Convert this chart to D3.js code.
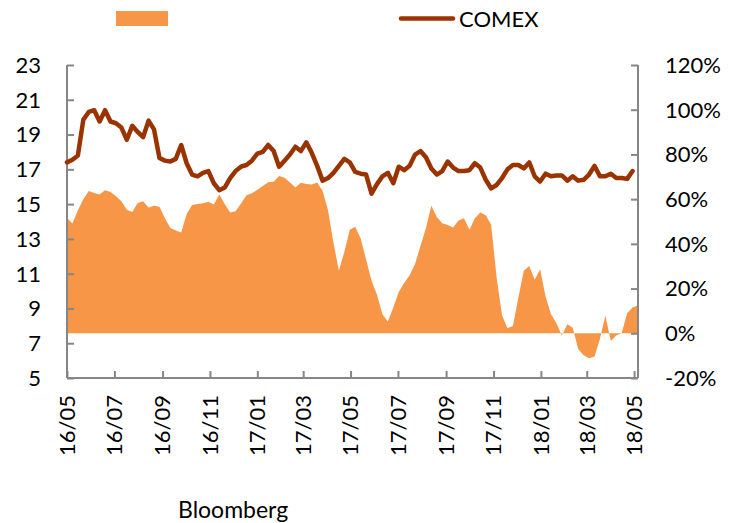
<!DOCTYPE html>
<html>
<head>
<meta charset="utf-8">
<script src="https://cdn.jsdelivr.net/npm/d3@7"></script>
<style>
html,body{margin:0;padding:0;background:#fff;}
svg text{font-family:Lato,"Open Sans",sans-serif;fill:#000;}
</style>
</head>
<body>
<svg id="chart" width="740" height="523"></svg>
<script>
// ---- data ----
const firstWeek = "2016-05-06";
const lastDate = "2018-05-11";
const tickLabels = ["16/05","16/07","16/09","16/11","17/01","17/03","17/05","17/07","17/09","17/11","18/01","18/03","18/05"];
const leftTicks = [5,7,9,11,13,15,17,19,21,23];
const rightTicks = [-20,0,20,40,60,80,100,120];
const seriesNames = ["", "COMEX"];
// COMEX price (left axis), weekly
const comex = [
17.4,17.55,17.8,19.85,20.3,20.4,19.75,20.4,19.75,19.65,
19.4,18.7,19.5,19.15,18.85,19.8,19.3,17.65,17.5,17.45,
17.6,18.4,17.35,16.7,16.6,16.8,16.9,16.2,15.8,15.95,
16.5,16.9,17.15,17.25,17.5,17.9,18.0,18.4,18.05,17.15,
17.5,17.85,18.3,18.05,18.55,17.95,17.2,16.35,16.5,16.8,
17.2,17.6,17.4,16.85,16.75,16.7,15.6,16.15,16.6,16.8,
16.2,17.15,16.95,17.2,17.85,18.05,17.7,17.05,16.7,16.9,
17.45,17.1,16.9,16.9,16.95,17.35,17.1,16.4,15.9,16.1,
16.5,17.0,17.25,17.25,17.05,17.4,16.6,16.3,16.75,16.6,
16.65,16.65,16.35,16.6,16.35,16.4,16.7,17.2,16.6,16.6,
16.75,16.5,16.5,16.45,16.9
];
// unnamed series (right axis, %), weekly
const pct = [
51.6,49.1,55.0,60.0,63.6,62.8,62.1,64.0,63.2,61.3,
59.1,55.2,54.3,58.3,59.1,56.3,57.0,56.6,51.5,47.1,
46.0,45.1,53.3,57.4,57.8,58.2,58.8,57.6,62.1,57.8,
54.0,54.6,58.1,61.7,62.6,64.2,65.9,67.6,67.8,70.3,
69.6,67.5,65.2,67.3,66.8,66.6,67.4,63.8,55.0,40.5,
28.0,36.4,46.3,47.6,42.4,33.0,23.5,17.2,8.5,5.3,
11.5,18.5,22.5,26.0,31.0,39.0,47.0,57.0,52.0,49.2,
48.4,47.3,50.5,51.5,46.3,51.5,54.0,52.8,48.5,25.0,
8.0,2.3,3.3,16.0,28.0,30.1,24.0,28.6,16.5,8.5,
4.5,-1.0,4.0,2.5,-7.0,-9.8,-11.2,-10.4,-2.5,8.0,
-3.5,-1.0,0.1,9.0,11.5,12.4
];

// ---- layout ----
const svg = d3.select("#chart");
const X0 = 67, X1 = 638, YT = 65, YB = 378;
const axisColor = "#868686";
const areaColor = "#F79646";
const lineColor = "#993300";
const fs = 22;

const parseDay = d3.timeParse("%Y-%m-%d");
const start = parseDay(firstWeek);
const weekDate = i => d3.timeDay.offset(start, 7 * i);

const x = d3.scaleTime().domain([start, parseDay(lastDate)]).range([X0, X1]);
const yL = d3.scaleLinear().domain([5, 23]).range([YB, YT]);
const yR = d3.scaleLinear().domain([-20, 120]).range([YB, YT]);

const tickDates = tickLabels.map(l => d3.timeParse("%y/%m/%d")(l + "/06"));

// area
const area = d3.area()
  .x((d, i) => x(weekDate(i)))
  .y0(yR(0))
  .y1(d => yR(d));
svg.append("path").datum(pct).attr("d", area).attr("fill", areaColor);

// axes
const gL = svg.append("g").attr("transform", `translate(${X0},0)`)
  .call(d3.axisRight(yL).tickValues(leftTicks).tickSize(7).tickFormat(""));
const gR = svg.append("g").attr("transform", `translate(${X1},0)`)
  .call(d3.axisLeft(yR).tickValues(rightTicks).tickSize(7).tickFormat(""));
const gB = svg.append("g").attr("transform", `translate(0,${YB})`)
  .call(d3.axisTop(x).tickValues(tickDates).tickSize(7).tickFormat(""));
[gL, gR, gB].forEach(g => {
  g.selectAll(".domain").attr("stroke", axisColor).attr("stroke-width", 2);
  g.selectAll(".tick line").attr("stroke", axisColor).attr("stroke-width", 2);
});
gL.select(".domain").attr("d", `M0,${YT}V${YB}`);
gR.select(".domain").attr("d", `M0,${YT}V${YB}`);
gB.select(".domain").attr("d", `M${X0},0H${X1}`);

// tick labels
svg.append("g").selectAll("text").data(leftTicks).join("text")
  .attr("x", 41).attr("y", d => yL(d)).attr("dy", "0.36em")
  .attr("text-anchor", "end").attr("font-size", fs).text(d => d);
svg.append("g").selectAll("text").data(rightTicks).join("text")
  .attr("x", 665).attr("y", d => yR(d)).attr("dy", "0.36em")
  .attr("text-anchor", "start").attr("font-size", fs).text(d => d + "%");
svg.append("g").selectAll("text").data(tickDates).join("text")
  .attr("transform", d => `translate(${x(d)},395) rotate(-90)`)
  .attr("dy", "0.36em")
  .attr("text-anchor", "end").attr("font-size", fs)
  .text((d, i) => tickLabels[i]);

// line
const line = d3.line()
  .x((d, i) => x(weekDate(i)))
  .y(d => yL(d));
svg.append("path").datum(comex).attr("d", line)
  .attr("fill", "none").attr("stroke", lineColor).attr("stroke-width", 4.5)
  .attr("stroke-linejoin", "round").attr("stroke-linecap", "round");

// legend
svg.append("rect").attr("x", 116).attr("y", 11).attr("width", 52).attr("height", 15).attr("fill", areaColor);
svg.append("text").attr("x", 172).attr("y", 26).attr("font-size", fs).text(seriesNames[0]);
svg.append("line").attr("x1", 401).attr("x2", 453).attr("y1", 18.5).attr("y2", 18.5)
  .attr("stroke", lineColor).attr("stroke-width", 4.5).attr("stroke-linecap", "round");
svg.append("text").attr("x", 459).attr("y", 26.5).attr("font-size", fs).text(seriesNames[1]);

// source
svg.append("text").attr("x", 178).attr("y", 517.5).attr("font-size", 23).text("Bloomberg");
</script>
</body>
</html>
